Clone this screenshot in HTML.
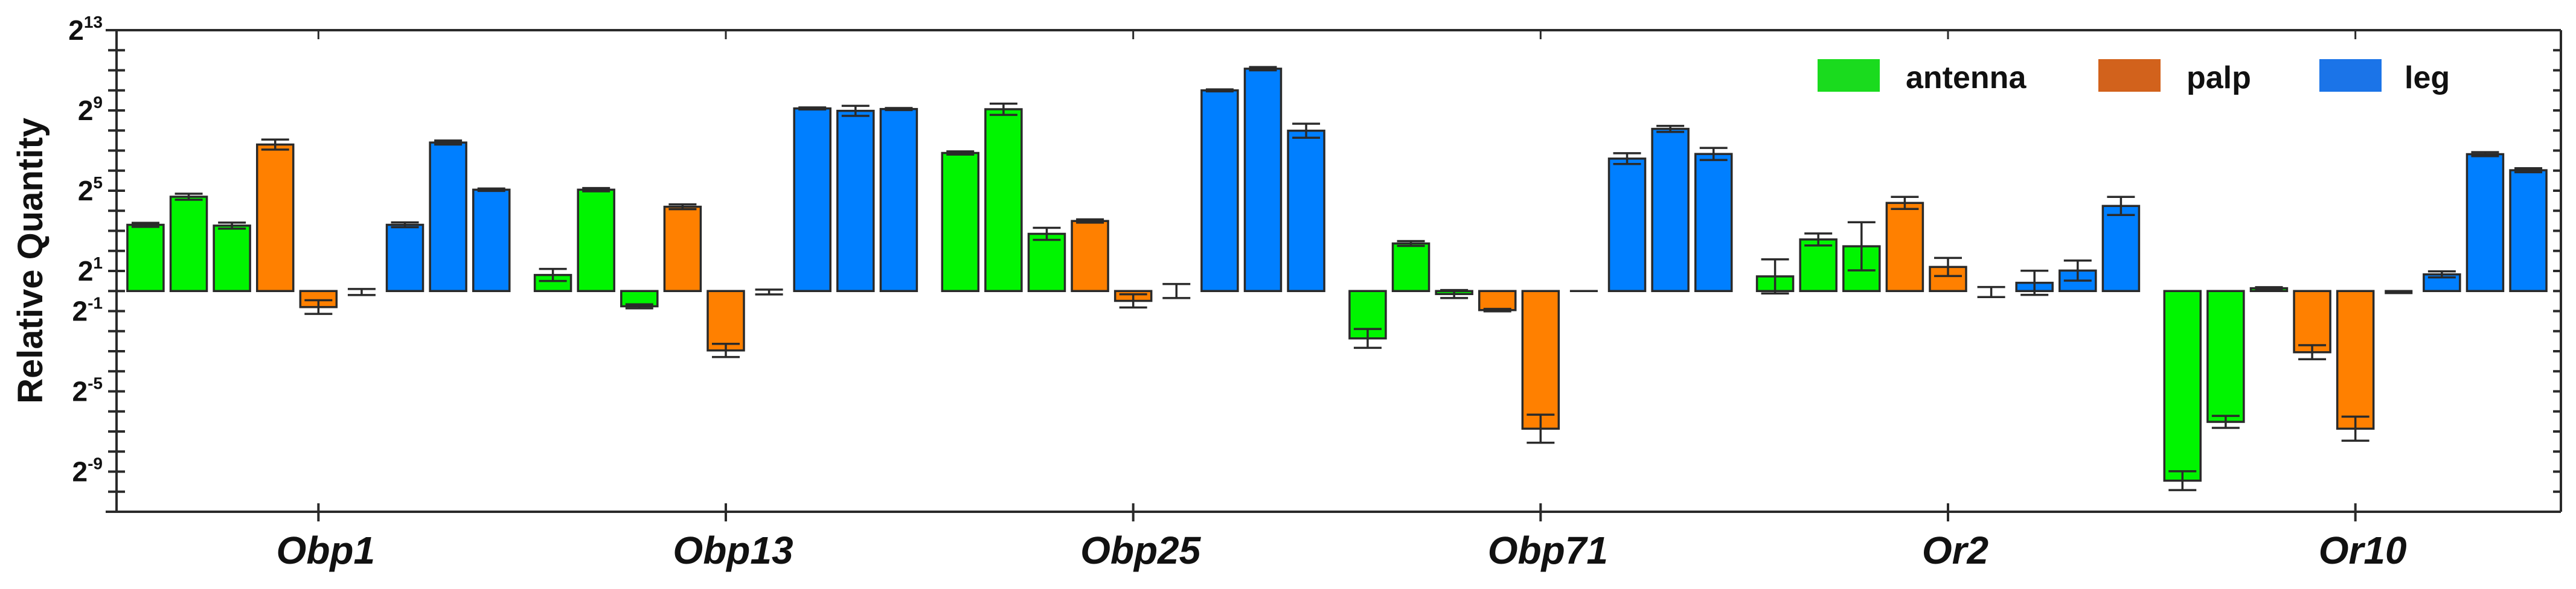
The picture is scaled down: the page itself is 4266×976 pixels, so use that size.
<!DOCTYPE html>
<html><head><meta charset="utf-8"><style>
html,body{margin:0;padding:0;background:#fff;}
svg{display:block;font-family:"Liberation Sans",Arial,sans-serif;}
</style></head><body>
<svg id="chart" width="4266" height="976" viewBox="0 0 4266 976" xmlns="http://www.w3.org/2000/svg">
<g id="axes"></g>
<g id="bars"></g>
<g id="legend">
 <rect x="3010" y="98" width="103" height="54" fill="#1adb1e"/>
 <text x="3156" y="146" font-size="52" font-weight="bold" fill="#111">antenna</text>
 <rect x="3475" y="98" width="103" height="54" fill="#d2621c"/>
 <text x="3621" y="146" font-size="52" font-weight="bold" fill="#111">palp</text>
 <rect x="3841" y="98" width="103" height="54" fill="#1b74e8"/>
 <text x="3982" y="146" font-size="52" font-weight="bold" fill="#111">leg</text>
</g>
<text transform="translate(70,432) rotate(-90)" text-anchor="middle" font-size="58" font-weight="bold" fill="#111">Relative Quantity</text>
</svg>
<script>
const categories = ["Obp1","Obp13","Obp25","Obp71","Or2","Or10"];
// slot series: antenna x3, palp x3, leg x3 per category (log2 values)
const antenna = [[3.3,4.7,3.26],[0.8,5.05,-0.76],[6.88,9.06,2.85],[-2.36,2.37,-0.15],[0.73,2.57,2.23],[-9.45,-6.52,0.14]];
const palp = [[7.3,-0.8,-0.05],[4.2,-2.96,-0.05],[3.49,-0.49,0],[-0.95,-6.86,0],[4.39,1.2,-0.05],[-3.05,-6.86,-0.05]];
const leg = [[3.3,7.4,5.05],[9.1,8.98,9.07],[10.0,11.08,7.99],[6.6,8.08,6.83],[0.41,1.02,4.24],[0.83,6.82,6.02]];
const antennaErr = [[0.1,0.15,0.15],[0.3,0.08,0.1],[0.08,0.28,0.3],[0.47,0.12,0.2],[0.85,0.3,1.2],[0.47,0.3,0.05]];
const palpErr = [[0.25,0.34,0.15],[0.12,0.33,0.12],[0.08,0.33,0.35],[0.06,0.7,0],[0.3,0.45,0.25],[0.35,0.6,0.05]];
const legErr = [[0.12,0.1,0.06],[0.05,0.25,0.05],[0.05,0.08,0.35],[0.27,0.15,0.3],[0.6,0.5,0.45],[0.15,0.1,0.1]];
const yTicks = [13,9,5,1,-1,-5,-9];
const yMin = -11, yMax = 13;

const NS = "http://www.w3.org/2000/svg";
const L = 193, R = 4241, T = 50, B = 848;
const groupW = (R - 3 - 190) / 6;
function y(e){ return T + (yMax - e) * (B - T) / (yMax - yMin); }
function xCat(i){ return 190 + groupW * (i + 0.5); }
function xSlot(i, s){ return xCat(i) + (s - 4) * 71.6; }
function mk(tag, attrs, parent){
  const el = document.createElementNS(NS, tag);
  for (const k in attrs) el.setAttribute(k, attrs[k]);
  parent.appendChild(el); return el;
}
const axes = document.getElementById('axes');
const bars = document.getElementById('bars');
const stroke = "#2a2a2a";
let e1 = mk('line',{x1:175,y1:T,x2:R,y2:T,stroke:stroke,'stroke-width':4},axes);
 
let e2 = mk('line',{x1:175,y1:B,x2:R,y2:B,stroke:stroke,'stroke-width':4},axes);
 
let e3 = mk('line',{x1:L,y1:T,x2:L,y2:B,stroke:stroke,'stroke-width':4},axes);
 
let e4 = mk('line',{x1:R,y1:T,x2:R,y2:B,stroke:stroke,'stroke-width':4},axes);
 
for (let e = yMin; e <= yMax; e++){
  const yy = y(e);
  const t = mk('line',{x1:179,y1:yy,x2:207,y2:yy,stroke:stroke,'stroke-width':4},axes);
   
  const t2 = mk('line',{x1:4228,y1:yy,x2:R,y2:yy,stroke:stroke,'stroke-width':4},axes);
   
}
yTicks.forEach(e => {
  const tx = mk('text',{x:170,y:y(e)+16,'text-anchor':'end','font-size':46,'font-weight':'bold',fill:'#111'},axes);
   
  tx.appendChild(document.createTextNode('2'));
  const sp = mk('tspan',{'font-size':28,dy:-20},tx);
  sp.textContent = String(e);
});
categories.forEach((c,i) => {
  const xx = xCat(i);
  const a = mk('line',{x1:xx,y1:T,x2:xx,y2:T+15,stroke:stroke,'stroke-width':3},axes);
   
  const b = mk('line',{x1:xx,y1:834,x2:xx,y2:864,stroke:stroke,'stroke-width':4},axes);
   
  const t = mk('text',{x:xx+12,y:934,'text-anchor':'middle','font-size':64,'font-weight':'bold','font-style':'italic',fill:'#111'},axes);
   
  t.textContent = c;
});
const series = [[antenna,antennaErr,'#00f500','antenna'],[palp,palpErr,'#ff8000','palp'],[leg,legErr,'#007fff','leg']];
const y0 = y(0);
categories.forEach((c,i) => {
  series.forEach((sr,si) => {
    for (let k = 0; k < 3; k++){
      const v = sr[0][i][k], er = sr[1][i][k];
      const cx = xSlot(i, si*3 + k);
      const yv = y(v);
      if (Math.abs(v) > 0.1){
        const r = mk('rect',{x:cx-30,y:Math.min(yv,y0),width:60,height:Math.abs(yv-y0),fill:sr[2],stroke:stroke,'stroke-width':3.5},bars);
        
        
      }
      const ya = y(v+er), yb = y(v-er);
      const g = mk('g',{stroke:stroke,'stroke-width':3.5,fill:'none'},bars);
      
      
      mk('line',{x1:cx,y1:ya,x2:cx,y2:yb},g);
      mk('line',{x1:cx-23,y1:ya,x2:cx+23,y2:ya},g);
      mk('line',{x1:cx-23,y1:yb,x2:cx+23,y2:yb},g);
    }
  });
});
</script>
</body></html>
